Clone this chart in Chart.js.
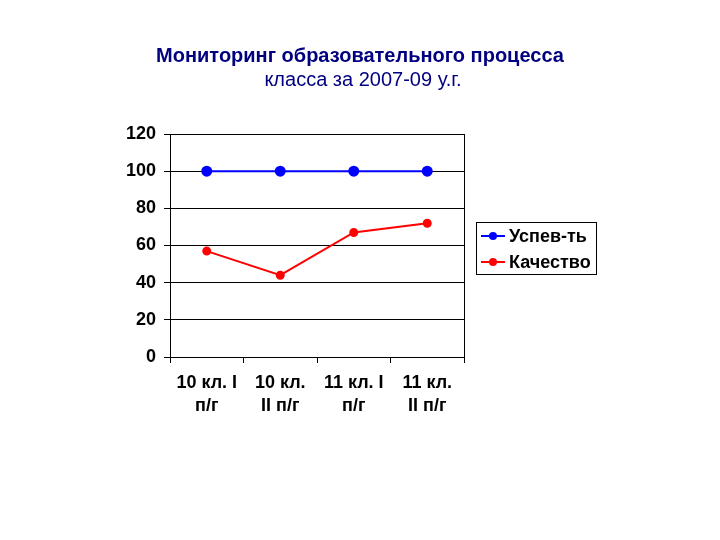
<!DOCTYPE html>
<html>
<head>
<meta charset="utf-8">
<script src="https://cdn.jsdelivr.net/npm/chart.js@4"></script>
<style>
  html, body { margin: 0; padding: 0; background: #fff; }
  #wrap { width: 720px; height: 540px; }
</style>
</head>
<body>
<div id="wrap"><canvas id="chart" width="720" height="540"></canvas></div>
<script>
const categories = [['10 кл. I', 'п/г'], ['10 кл.', 'II п/г'], ['11 кл. I', 'п/г'], ['11 кл.', 'II п/г']];
const uspevaemost = [100, 100, 100, 100];
const kachestvo = [57, 44, 67, 72];
const titleLine1 = 'Мониторинг образовательного процесса';
const titleLine2 = 'класса за 2007-09 у.г.';

const font = 'Liberation Sans, Arial, sans-serif';

// title, plot border and boxed legend drawn by hand
const extras = {
    id: 'extras',
    afterDraw(chart) {
        const ctx = chart.ctx;
        const a = chart.chartArea;
        ctx.save();
        ctx.textAlign = 'center';
        ctx.textBaseline = 'middle';
        ctx.fillStyle = '#000080';
        ctx.font = 'bold 20px ' + font;
        ctx.fillText(titleLine1, 360, 56);
        ctx.font = '20px ' + font;
        ctx.fillText(titleLine2, 363, 80);

        ctx.strokeStyle = '#000';
        ctx.lineWidth = 1;
        ctx.beginPath();
        ctx.moveTo(a.right + 0.5, a.top);
        ctx.lineTo(a.right + 0.5, a.bottom);
        ctx.stroke();

        // legend
        ctx.strokeRect(476.5, 222.5, 120, 52);
        ctx.textAlign = 'left';
        ctx.font = 'bold 18px ' + font;
        chart.data.datasets.forEach((ds, i) => {
            const y = 236 + i * 26;
            ctx.strokeStyle = ds.borderColor;
            ctx.lineWidth = 2;
            ctx.beginPath();
            ctx.moveTo(481, y);
            ctx.lineTo(505, y);
            ctx.stroke();
            ctx.fillStyle = ds.borderColor;
            ctx.beginPath();
            ctx.arc(493, y, 4, 0, Math.PI * 2);
            ctx.fill();
            ctx.fillStyle = '#000';
            ctx.fillText(ds.label, 509, y + 1);
        });
        ctx.restore();
    }
};

new Chart(document.getElementById('chart'), {
    type: 'line',
    data: {
        labels: categories,
        datasets: [
            {
                label: 'Успев-ть',
                data: uspevaemost,
                borderColor: '#0000ff',
                backgroundColor: '#0000ff',
                borderWidth: 2,
                pointRadius: 4.5,
                pointBackgroundColor: '#0000ff'
            },
            {
                label: 'Качество',
                data: kachestvo,
                borderColor: '#ff0000',
                backgroundColor: '#ff0000',
                borderWidth: 2,
                pointRadius: 3.5,
                pointBackgroundColor: '#ff0000'
            }
        ]
    },
    options: {
        responsive: false,
        animation: false,
        layout: { padding: { left: 110, right: 256, top: 134, bottom: 0 } },
        plugins: { legend: { display: false }, title: { display: false }, tooltip: { enabled: false } },
        scales: {
            x: {
                offset: true,
                grid: { offset: true, drawOnChartArea: false, color: '#000', tickLength: 6, tickColor: '#000' },
                border: { color: '#000', width: 1 },
                ticks: { color: '#000', font: { family: font, size: 18, weight: 'bold', lineHeight: 1.3 }, maxRotation: 0, autoSkip: false, padding: 8 },
                afterFit: s => { s.height = 183; }
            },
            y: {
                min: 0,
                max: 120,
                ticks: { stepSize: 20, color: '#000', font: { family: font, size: 18, weight: 'bold' }, padding: 8 },
                grid: { color: '#000', tickLength: 6, tickColor: '#000' },
                border: { color: '#000', width: 1 },
                afterFit: s => { s.width = 60; }
            }
        }
    },
    plugins: [extras]
});
</script>
</body>
</html>
